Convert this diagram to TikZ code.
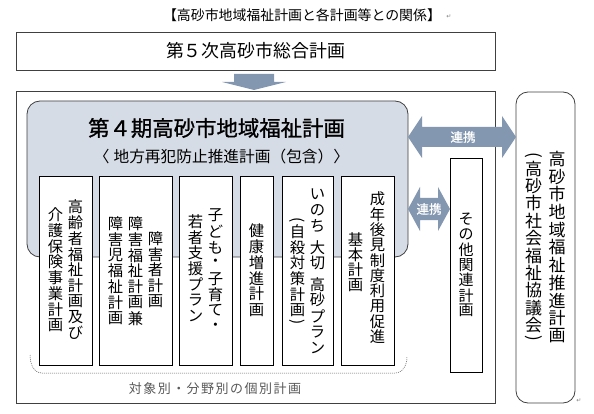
\documentclass[tikz,border=0pt]{standalone}
\usepackage{fontspec}
\usepackage{graphicx}
\newfontfamily\jp{Noto Sans CJK JP}
\newfontfamily\jpb[FakeBold=1]{Noto Sans CJK JP}
\newfontfamily\djv{DejaVu Sans}
\definecolor{arrowc}{HTML}{8497B0}
\definecolor{grayfill}{HTML}{D6DCE5}
\definecolor{linec}{HTML}{404040}
\definecolor{labgray}{HTML}{595959}
\makeatletter
\newlength\vpitch
\newcommand\VO{}\newcommand\VC{}\newcommand\VS{}
\def\VOmark{\VO}\def\VCmark{\VC}\def\VSmark{\VS}
\newcommand\vitem{%
 \ifx\vc\VOmark
   \vbox to .5\vpitch{\vss\hbox to\vpitch{\hss\rotatebox{-90}{(}\hss}\vss}%
 \else\ifx\vc\VCmark
   \vbox to .5\vpitch{\vss\hbox to\vpitch{\hss\rotatebox{-90}{)}\hss}\vss}%
 \else\ifx\vc\VSmark
   \vskip .35\vpitch
 \else
   \vbox to\vpitch{\vss\hbox to\vpitch{\hss\vc\hss}\vss}%
 \fi\fi\fi}
\newcommand\vcol[2][15.8pt]{\vbox{\vpitch=#1\relax\offinterlineskip\@tfor\vc:=#2\do{\vitem}}}
\makeatother
\tikzset{
  jpt/.style={font={\jp\fontsize{#1}{#1}\selectfont}, inner sep=0pt},
  jpbt/.style={font={\jpb\fontsize{#1}{#1}\selectfont}, inner sep=0pt},
  frame/.style={draw=linec, line width=0.8pt, fill=white, inner sep=0pt},
  graybox/.style={draw=linec, line width=0.8pt, fill=grayfill, inner sep=0pt, rounded corners=13pt},
  colbox/.style={draw=black, line width=0.7pt, fill=white, inner sep=0pt},
  pmark/.style={font={\djv\fontsize{6}{6}\selectfont}, text=gray, inner sep=0pt},
  blockarrow/.style={fill=arrowc, draw=none},
}
\begin{document}
\begin{tikzpicture}[x=1pt,y=-1pt]
\useasboundingbox (0,0) rectangle (594,414);
% title
\node[jpt=13.9] (title) at (302,15.5) {【高砂市地域福祉計画と各計画等との関係】};
\node[pmark] (ret1) at (449,17) {↵};
% top box
\node[frame, minimum width=479pt, minimum height=38pt, jpt=17.9] (plan5) at (255.5,51) {第５次高砂市総合計画};
% down arrow
\fill[blockarrow] (234,74) -- (274,74) -- (274,82) -- (286,82) -- (254,90) -- (222,82) -- (234,82) -- cycle;
% outer box
\node[frame, minimum width=479pt, minimum height=312pt] (outer) at (255.5,247) {};
% gray box
\node[graybox, minimum width=381pt, minimum height=156pt] (gray) at (217.5,179) {};
\node[jpbt=21.4] (t4) at (216.5,128) {第４期高砂市地域福祉計画};
\node[jpt=15.7] (sub) at (221.5,157) {〈\hspace{4pt}地方再犯防止推進計画（包含）〉};
% column boxes
\node[colbox, minimum width=53pt, minimum height=189pt] (b1) at (65.5,270.5) {};
\node[colbox, minimum width=73pt, minimum height=189pt] (b2) at (135.5,270.5) {};
\node[colbox, minimum width=53pt, minimum height=189pt] (b3) at (205.5,270.5) {};
\node[colbox, minimum width=33pt, minimum height=189pt] (b4) at (256.5,270.5) {};
\node[colbox, minimum width=51pt, minimum height=189pt] (b5) at (307.5,270.5) {};
\node[colbox, minimum width=53pt, minimum height=189pt] (b6) at (367.5,270.5) {};
% column texts
\node[jpt=15.3] (b1r) at (75.5,270) {\vcol{高齢者福祉計画及び}};
\node[jpt=15.3] (b1l) at (55.5,270) {\vcol{介護保険事業計画}};
\node[jpt=15.3] (b2r) at (155.5,270) {\vcol{障害者計画}};
\node[jpt=15.3] (b2m) at (135.5,271) {\vcol{障害福祉計画兼}};
\node[jpt=15.3] (b2l) at (115.5,271) {\vcol{障害児福祉計画}};
\node[jpt=15.3] (b3r) at (215.5,271) {\vcol{子ども・子育て・}};
\node[jpt=15.3] (b3l) at (195.5,269) {\vcol{若者支援プラン}};
\node[jpt=15.3] (b4c) at (256.5,270.5) {\vcol{健康増進計画}};
\node[jpt=15.3] (b5r) at (317.5,271) {\vcol{いのち\VS 大切\VS 高砂プラン}};
\node[jpt=15.3] (b5l) at (297.5,271) {\vcol{\VO 自殺対策計画\VC}};
\node[jpt=15.3] (b6r) at (377.5,268) {\vcol[15.3pt]{成年後見制度利用促進}};
\node[jpt=15.3] (b6l) at (355.5,262) {\vcol[15.3pt]{基本計画}};
% brace
\draw[labgray, line width=0.5pt, dash pattern=on 1pt off 1pt] (30,355) to[out=-90,in=180] (42,373) -- (395,373) to[out=0,in=-90] (407,357);
\node[jpt=13, text=labgray] (lbl) at (215,389) {\addfontfeature{LetterSpace=11.5}対象別・分野別の個別計画};
% other plans
\node[colbox, minimum width=32pt, minimum height=214pt] (other) at (466,265) {};
\node[jpt=15] (othert) at (466,265) {\vcol[15.2pt]{その他関連計画}};
% right box
\node[frame, rounded corners=12pt, minimum width=59pt, minimum height=311pt] (council) at (545.5,247.5) {};
\node[jpt=17] (cr) at (557,247.5) {\vcol[17.7pt]{高砂市地域福祉推進計画}};
\node[jpt=17] (cl) at (533.5,247) {\vcol[17.4pt]{\VO 高砂市社会福祉協議会\VC}};
\node[pmark] (ret2) at (579,401) {↵};
% double arrows
\fill[blockarrow] (408,137) -- (422,116) -- (422,127) -- (502,127) -- (502,116) -- (516,137) -- (502,158) -- (502,147) -- (422,147) -- (422,158) -- cycle;
\node[jpbt=12.5, text=white] (lk1) at (463,137) {連携};
\fill[blockarrow] (408,209) -- (420,187) -- (420,198) -- (438,198) -- (438,187) -- (450,209) -- (438,231) -- (438,220) -- (420,220) -- (420,231) -- cycle;
\node[jpbt=12.5, text=white] (lk2) at (429,209) {連携};
\end{tikzpicture}
\end{document}
